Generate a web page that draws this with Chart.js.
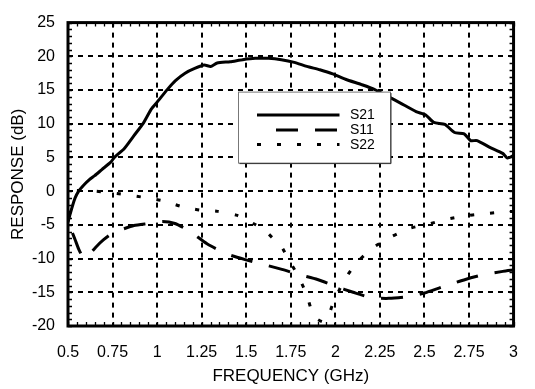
<!DOCTYPE html>
<html>
<head>
<meta charset="utf-8">
<script src="https://cdn.jsdelivr.net/npm/chart.js@4/dist/chart.umd.min.js"></script>
<style>
  html, body { margin: 0; padding: 0; background: #fff; }
  canvas { display: block; }
</style>
</head>
<body>
<canvas id="chart" width="535" height="389"></canvas>
<script>
// Measured two-port response versus frequency
const s21Freq = [0.5, 0.51, 0.525, 0.54, 0.56, 0.585, 0.62, 0.65, 0.69, 0.74, 0.76, 0.815, 0.869, 0.923, 0.968, 1.0, 1.058, 1.103, 1.157, 1.211, 1.265, 1.3, 1.337, 1.41, 1.48, 1.55, 1.625, 1.697, 1.77, 1.84, 1.913, 1.985, 2.057, 2.147, 2.219, 2.291, 2.363, 2.453, 2.507, 2.552, 2.615, 2.669, 2.723, 2.759, 2.795, 2.867, 2.939, 2.966, 3.0];
const s21Db   = [-4.6, -3.6, -2.2, -1.0, 0.0, 0.8, 1.7, 2.3, 3.2, 4.3, 5.0, 6.3, 8.2, 10.1, 12.2, 13.2, 15.1, 16.4, 17.5, 18.2, 18.7, 18.5, 19.0, 19.2, 19.5, 19.7, 19.7, 19.5, 19.1, 18.5, 18.0, 17.4, 16.6, 15.8, 15.1, 14.1, 13.1, 11.8, 11.3, 10.2, 9.9, 8.7, 8.5, 7.5, 7.5, 6.5, 5.6, 4.9, 5.3];

const s11Freq = [0.525, 0.54, 0.56, 0.58, 0.6, 0.62, 0.66, 0.7, 0.75, 0.8, 0.87, 0.95, 1.03, 1.1, 1.18, 1.28, 1.39, 1.5, 1.6, 1.7, 1.8, 1.9, 2.0, 2.1, 2.2, 2.3, 2.42, 2.5, 2.6, 2.73, 2.83, 2.94, 3.0];
const s11Db   = [-6.2, -7.2, -8.6, -9.6, -9.9, -9.4, -8.2, -7.2, -6.2, -5.7, -5.1, -4.8, -4.5, -4.8, -5.9, -7.8, -9.3, -10.2, -10.9, -11.6, -12.4, -13.1, -14.1, -15.0, -15.8, -15.9, -15.6, -15.1, -14.2, -13.1, -12.4, -11.9, -11.7];

const s22Freq = [0.55, 0.65, 0.73, 0.82, 0.92, 1.03, 1.14, 1.24, 1.34, 1.45, 1.54, 1.6, 1.65, 1.7, 1.73, 1.79, 1.84, 1.87, 1.9, 1.935, 1.96, 1.985, 2.04, 2.11, 2.2, 2.31, 2.42, 2.52, 2.62, 2.72, 2.82, 2.94, 3.0];
const s22Db   = [0.1, 0.0, -0.2, -0.5, -0.9, -1.4, -2.3, -2.8, -3.0, -3.6, -4.8, -5.7, -7.0, -8.3, -9.8, -12.5, -15.4, -18.0, -19.0, -19.4, -18.6, -16.8, -13.7, -10.9, -8.6, -6.8, -5.5, -4.9, -4.2, -3.7, -3.4, -3.1, -3.0];

const seriesNames = ['S21', 'S11', 'S22'];
const xTicks = [0.5, 0.75, 1, 1.25, 1.5, 1.75, 2, 2.25, 2.5, 2.75, 3];
const yTicks = [-20, -15, -10, -5, 0, 5, 10, 15, 20, 25];

const FONT = "'Liberation Sans', Arial, Helvetica, sans-serif";

function toPoints(freqs, values) {
  return freqs.map((f, i) => ({ x: f, y: values[i] }));
}

// Frame, inward minor ticks and the boxed legend
const framePlugin = {
  id: 'frame',
  afterDatasetsDraw(chart) {
    const { ctx, chartArea: a, scales: { x, y } } = chart;
    ctx.save();
    ctx.strokeStyle = '#000';
    ctx.lineWidth = 1.3;
    ctx.setLineDash([]);
    const tl = 4;
    ctx.beginPath();
    const xMin = xTicks[0], xMax = xTicks[xTicks.length - 1];
    const nx = Math.round((xMax - xMin) / 0.05);
    for (let i = 0; i <= nx; i++) {
      const px = Math.round(x.getPixelForValue(xMin + i * 0.05)) + 0.5;
      ctx.moveTo(px, a.bottom); ctx.lineTo(px, a.bottom - tl);
      ctx.moveTo(px, a.top); ctx.lineTo(px, a.top + tl);
    }
    const yMin = yTicks[0], yMax = yTicks[yTicks.length - 1];
    for (let v = yMin; v <= yMax; v++) {
      const py = Math.round(y.getPixelForValue(v)) + 0.5;
      ctx.moveTo(a.left, py); ctx.lineTo(a.left + tl, py);
      ctx.moveTo(a.right, py); ctx.lineTo(a.right - tl, py);
    }
    ctx.stroke();

    ctx.lineWidth = 3;
    ctx.strokeRect(a.left, a.top, a.width, a.height);

    // legend box
    const bx = a.left + 170.5, by = a.top + 69.5, bw = 152, bh = 71;
    ctx.fillStyle = '#fff';
    ctx.fillRect(bx, by, bw, bh);
    ctx.lineWidth = 1;
    ctx.strokeStyle = '#777';
    ctx.strokeRect(bx, by, bw, bh);
    ctx.strokeStyle = '#333';
    ctx.beginPath();
    ctx.moveTo(bx + 1, by + bh + 0.5); ctx.lineTo(bx + bw + 0.5, by + bh + 0.5); ctx.lineTo(bx + bw + 0.5, by + 1);
    ctx.stroke();

    const rows = [by + 23, by + 38, by + 52.5];
    const sampleStart = [bx + 18.5, bx + 20.5, bx + 18.5];
    const sampleEnd = bx + 101;
    const dashOffsets = [0, 22, 0];
    chart.data.datasets.forEach((ds, i) => {
      ctx.save();
      ctx.strokeStyle = ds.borderColor;
      ctx.lineWidth = ds.borderWidth;
      ctx.setLineDash(ds.borderDash || []);
      ctx.lineDashOffset = dashOffsets[i];
      ctx.beginPath();
      ctx.moveTo(sampleStart[i], rows[i]);
      ctx.lineTo(sampleEnd, rows[i]);
      ctx.stroke();
      ctx.restore();
      ctx.fillStyle = '#000';
      ctx.font = '14px ' + FONT;
      ctx.textBaseline = 'middle';
      ctx.textAlign = 'left';
      ctx.fillText(ds.label, bx + 111.5, rows[i] + 0.5);
    });
    ctx.restore();
  }
};

new Chart(document.getElementById('chart'), {
  type: 'line',
  data: {
    datasets: [
      { label: seriesNames[0], data: toPoints(s21Freq, s21Db), borderColor: '#000', borderWidth: 3, borderDash: [], tension: 0.2, pointRadius: 0, fill: false },
      { label: seriesNames[1], data: toPoints(s11Freq, s11Db), borderColor: '#000', borderWidth: 3, borderDash: [22, 17], tension: 0.2, pointRadius: 0, fill: false },
      { label: seriesNames[2], data: toPoints(s22Freq, s22Db), borderColor: '#000', borderWidth: 3, borderDash: [4, 16], tension: 0.2, pointRadius: 0, fill: false }
    ]
  },
  options: {
    responsive: false,
    animation: false,
    devicePixelRatio: 1,
    layout: { padding: { top: 11, right: 4, left: 0, bottom: 0 } },
    plugins: { legend: { display: false }, tooltip: { enabled: false } },
    scales: {
      x: {
        type: 'linear',
        min: xTicks[0],
        max: xTicks[xTicks.length - 1],
        afterBuildTicks: s => { s.ticks = xTicks.map(v => ({ value: v })); },
        afterFit: s => { s.height = 63; },
        grid: { color: '#000', lineWidth: 2, drawTicks: false },
        border: { display: false, dash: [5, 5] },
        ticks: { color: '#000', padding: 17, maxRotation: 0, autoSkip: false, font: { family: FONT, size: 16 }, callback: v => String(v) },
        title: { display: true, text: 'FREQUENCY (GHz)', color: '#000', font: { family: FONT, size: 17 }, padding: { top: 0, bottom: 2 } }
      },
      y: {
        type: 'linear',
        min: yTicks[0],
        max: yTicks[yTicks.length - 1],
        afterBuildTicks: s => { s.ticks = yTicks.map(v => ({ value: v })); },
        afterFit: s => { s.width = 68; },
        grid: { color: '#000', lineWidth: 2, drawTicks: false },
        border: { display: false, dash: [5, 5] },
        ticks: { color: '#000', padding: 13, autoSkip: false, font: { family: FONT, size: 16 }, callback: v => String(v) },
        title: { display: true, text: 'RESPONSE (dB)', color: '#000', font: { family: FONT, size: 17 }, padding: { top: 8, bottom: 0 } }
      }
    }
  },
  plugins: [framePlugin]
});
</script>
</body>
</html>
